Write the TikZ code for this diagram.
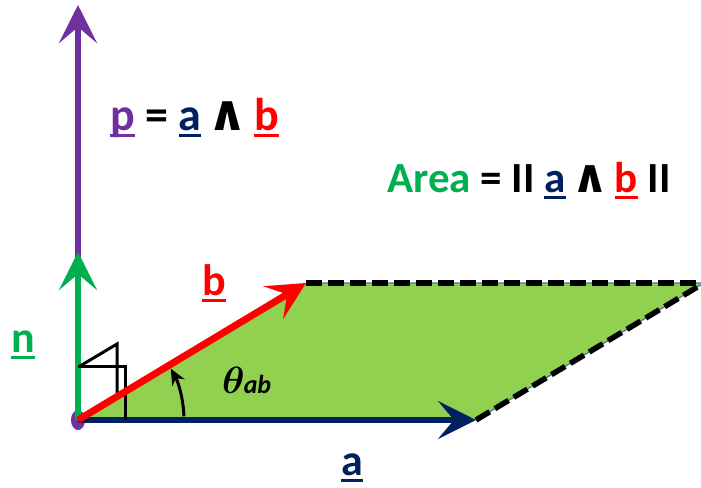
\documentclass[tikz,border=0pt]{standalone}
\usepackage{graphicx}
\usepackage{fontspec}
\setmainfont{Carlito}
\newfontfamily\wedgefont{DejaVu Sans}
\usetikzlibrary{arrows.meta}
\definecolor{navy}{HTML}{002060}
\definecolor{vecred}{HTML}{FF0000}
\definecolor{vecgreen}{HTML}{00B050}
\definecolor{vecpurple}{HTML}{7030A0}
\definecolor{areagreen}{HTML}{92D050}
\definecolor{edgeblue}{HTML}{4A6FA5}
\newcommand\vecbar[1]{\setbox0\hbox{#1}\rlap{\rule[-7pt]{\wd0}{3.5pt}}\box0}
\newcommand\wdg{\kern-4pt\scalebox{1.08}{\wedgefont ∧}\kern-4pt}
\tikzset{
  vec/.style={line width=6pt, -{Stealth[length=38pt,width=38pt,inset=16pt]}},
  dashedge/.style={line width=5.5pt, dash pattern=on 16pt off 6pt},
  veclabel/.style={font=\fontsize{44}{48}\selectfont\bfseries, inner sep=0pt, anchor=base},
  formula/.style={inner sep=0pt, anchor=base west},
  rightmark/.style={line width=3pt, line join=miter},
  anglearc/.style={line width=3pt, -{Stealth[length=16pt,width=14pt,inset=5pt]}}
}
\begin{document}
\begin{tikzpicture}[x=1pt,y=-1pt]
\useasboundingbox (0,0) rectangle (701,487);
% corners of the parallelogram
\coordinate (O) at (78,420);
\coordinate (A) at (476,420);
\coordinate (B) at (306,283);
\coordinate (C) at (704,283);
\coordinate (N) at (78,252);
\coordinate (P) at (78,5);

\fill[areagreen] (O) -- (A) -- (C) -- (B) -- cycle;
\draw[edgeblue, line width=1.2pt] (B) -- (C) -- (A);
\draw[dashedge] (B) -- (C);
\draw[dashedge] (A) -- (C);

\fill[vecpurple] (O) ellipse [x radius=7pt, y radius=10pt];
\draw[vec, vecpurple] (O) -- (P);
\draw[vec, vecgreen] (O) -- (N);
\draw[vec, navy] (O) -- (A);

% right angle marks
\draw[rightmark] (78,366) -- (125,366) -- (125,420);
\draw[rightmark] (80,366) -- (117,344) -- (117,397);
\draw[anglearc] (O) ++(-2:106) arc[start angle=-2, end angle=-29, radius=106];

\draw[vec, vecred, line width=7pt] (O) -- (B);

\node[veclabel, vecred] (blabel) at (214,295) {\vecbar{b}};
\node[veclabel, vecgreen] (nlabel) at (23,352) {\vecbar{n}};
\node[veclabel, navy] (alabel) at (352,475) {\vecbar{a}};
\node[formula] (theta) at (222,393)
  {\scalebox{3.8}{\boldmath$\theta$}\kern-1pt\bfseries\itshape\fontsize{26}{30}\selectfont ab};
\node[formula, font=\fontsize{46}{50}\selectfont\bfseries] (pform) at (110,130)
  {\textcolor{vecpurple}{\vecbar{p}} = \textcolor{navy}{\vecbar{a}} \wdg{} \textcolor{vecred}{\vecbar{b}}};
\node[formula, font=\fontsize{43}{48}\selectfont\bfseries] (area) at (387,192)
  {\textcolor{vecgreen}{Area} = II \textcolor{navy}{\vecbar{a}} \wdg{} \textcolor{vecred}{\vecbar{b}} II};
\end{tikzpicture}
\end{document}
